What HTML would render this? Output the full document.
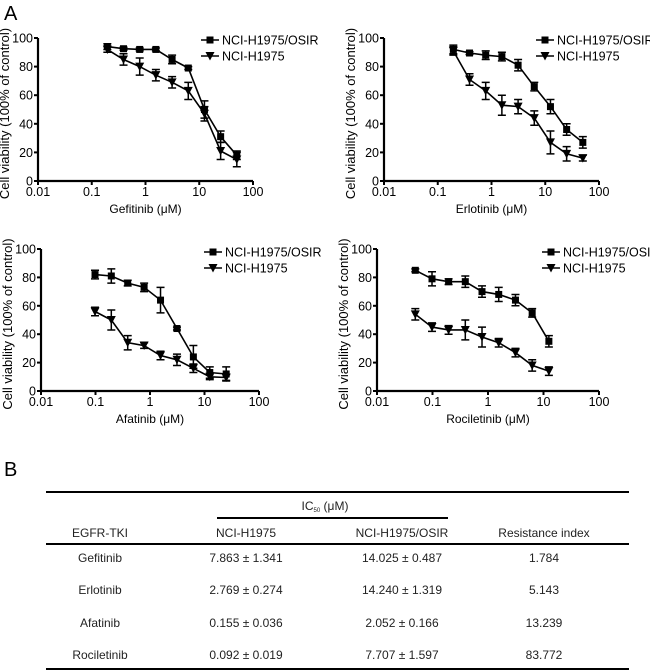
<!DOCTYPE html>
<html><head><meta charset="utf-8">
<style>
body{margin:0;background:#fff;}
svg{display:block;font-family:"Liberation Sans",Arial,sans-serif;}
</style></head>
<body>
<svg id="fig" width="650" height="670" viewBox="0 0 650 670">
<text x="4" y="20" font-size="20">A</text>
<text x="4" y="476" font-size="20">B</text>
<g id="charts"></g>
<g id="table" font-size="12" text-anchor="middle" fill="#222">
  <line x1="46" y1="492" x2="629" y2="492" stroke="#000" stroke-width="2"/>
  <text x="325" y="510">IC<tspan font-size="6" dy="2">50</tspan><tspan dy="-2"> (μM)</tspan></text>
  <line x1="217" y1="518" x2="448" y2="518" stroke="#000" stroke-width="2"/>
  <text x="100" y="537">EGFR-TKI</text>
  <text x="246" y="537">NCI-H1975</text>
  <text x="402" y="537">NCI-H1975/OSIR</text>
  <text x="544" y="537">Resistance index</text>
  <line x1="46" y1="544" x2="629" y2="544" stroke="#000" stroke-width="2"/>
  <g><text x="100" y="562">Gefitinib</text><text x="246" y="562">7.863 ± 1.341</text><text x="402" y="562">14.025 ± 0.487</text><text x="544" y="562">1.784</text></g>
  <g><text x="100" y="594">Erlotinib</text><text x="246" y="594">2.769 ± 0.274</text><text x="402" y="594">14.240 ± 1.319</text><text x="544" y="594">5.143</text></g>
  <g><text x="100" y="627">Afatinib</text><text x="246" y="627">0.155 ± 0.036</text><text x="402" y="627">2.052 ± 0.166</text><text x="544" y="627">13.239</text></g>
  <g><text x="100" y="659">Rociletinib</text><text x="246" y="659">0.092 ± 0.019</text><text x="402" y="659">7.707 ± 1.597</text><text x="544" y="659">83.772</text></g>
  <line x1="46" y1="669" x2="629" y2="669" stroke="#000" stroke-width="2"/>
</g>
</svg>
<script>
const xTicks = [0.01, 0.1, 1, 10, 100];
const xTickLabels = ["0.01", "0.1", "1", "10", "100"];
const yTicks = [0, 20, 40, 60, 80, 100];
const seriesNames = ["NCI-H1975/OSIR", "NCI-H1975"];

const gefX = [0.195, 0.39, 0.78, 1.56, 3.125, 6.25, 12.5, 25, 50];
const gefOsir = [94, 92.5, 92, 92, 85, 79, 50, 31, 18];
const gefOsirErr = [2, 1, 1, 1, 3, 1, 6, 4, 3];
const gefPar = [92, 85, 80, 74, 69, 63, 47, 21, 15];
const gefParErr = [2, 4, 6, 4, 4, 6, 5, 6, 5];

const erlX = [0.195, 0.39, 0.78, 1.56, 3.125, 6.25, 12.5, 25, 50];
const erlOsir = [92, 89.5, 88, 87, 81, 66, 52, 36, 27];
const erlOsirErr = [3, 1, 3, 3, 4, 3, 5, 4, 4];
const erlPar = [91, 71, 63, 53, 52, 44, 27, 19, 16];
const erlParErr = [3, 4, 6, 7, 5, 5, 8, 5, 2];

const afaX = [0.098, 0.195, 0.39, 0.78, 1.56, 3.125, 6.25, 12.5, 25];
const afaOsir = [82, 81, 76, 73, 64, 44, 24, 13, 12];
const afaOsirErr = [3, 5, 2, 3, 9, 1, 8, 4, 5];
const afaPar = [56, 50, 34, 32, 25, 22, 16, 10, 9.5];
const afaParErr = [3, 7, 5, 2, 3, 4, 3, 2, 2];

const rocX = [0.049, 0.098, 0.195, 0.39, 0.78, 1.56, 3.125, 6.25, 12.5];
const rocOsir = [85, 79, 77, 77, 70, 68, 64, 55, 35];
const rocOsirErr = [1, 5, 2, 4, 4, 5, 4, 3, 4];
const rocPar = [54, 45, 43, 43, 38, 34, 27, 18, 14];
const rocParErr = [4, 3, 3, 7, 7, 3, 3, 4, 3];

const NS = "http://www.w3.org/2000/svg";
function mk(tag, attrs, parent) {
  const e = document.createElementNS(NS, tag);
  for (const k in attrs) e.setAttribute(k, attrs[k]);
  parent.appendChild(e);
  return e;
}
const root = document.getElementById("charts");

const panels = [
  {id:"gefitinib", label:"Gefitinib (μM)", x0:38, x1:253, yTop:38, yBot:181, lx:201, ly:40, xs:gefX, a:gefOsir, ae:gefOsirErr, b:gefPar, be:gefParErr},
  {id:"erlotinib", label:"Erlotinib (μM)", x0:384, x1:599, yTop:38, yBot:181, lx:536, ly:40, xs:erlX, a:erlOsir, ae:erlOsirErr, b:erlPar, be:erlParErr},
  {id:"afatinib", label:"Afatinib (μM)", x0:41, x1:259, yTop:249, yBot:391, lx:204, ly:252, xs:afaX, a:afaOsir, ae:afaOsirErr, b:afaPar, be:afaParErr},
  {id:"rociletinib", label:"Rociletinib (μM)", x0:377, x1:599, yTop:249, yBot:391, lx:542, ly:252, xs:rocX, a:rocOsir, ae:rocOsirErr, b:rocPar, be:rocParErr}
];

function marker(g, type, cx, cy) {
  if (type === 0) {
    const r = mk("rect", {x:cx-3.5, y:cy-3.5, width:7, height:7, fill:"#000"}, g);
    
    
  } else {
    const p = mk("polygon", {points:`${cx-4.5},${cy-4} ${cx+4.5},${cy-4} ${cx},${cy+4.5}`, fill:"#000"}, g);
    
    
  }
}

panels.forEach(p => {
  const g = mk("g", {}, root);
  
  
  const lmin = Math.log10(0.01), lmax = Math.log10(100);
  const X = v => p.x0 + (Math.log10(v) - lmin) / (lmax - lmin) * (p.x1 - p.x0);
  const Y = v => p.yBot - v / 100 * (p.yBot - p.yTop);
  const ax = mk("path", {d:`M${p.x0},${p.yTop} V${p.yBot} H${p.x1}`, stroke:"#000", "stroke-width":2.2, fill:"none"}, g);
  
  
  yTicks.forEach(t => {
    mk("line", {x1:p.x0-4, x2:p.x0, y1:Y(t), y2:Y(t), stroke:"#000", "stroke-width":2}, g);
    const tx = mk("text", {x:p.x0-5, y:Y(t)+4.5, "font-size":12.5, "text-anchor":"end"}, g);
    tx.textContent = t;
    
    
  });
  xTicks.forEach((t, i) => {
    mk("line", {x1:X(t), x2:X(t), y1:p.yBot, y2:p.yBot+4, stroke:"#000", "stroke-width":2}, g);
    const tx = mk("text", {x:X(t), y:p.yBot+15, "font-size":12.5, "text-anchor":"middle"}, g);
    tx.textContent = xTickLabels[i];
    
    
  });
  const xl = mk("text", {x:(p.x0+p.x1)/2, y:p.yBot+32, "font-size":12, "text-anchor":"middle"}, g);
  xl.textContent = p.label;
  
  
  const cy = (p.yTop+p.yBot)/2 + 4;
  const yl = mk("text", {x:p.x0-29, y:cy, "font-size":13, "text-anchor":"middle", transform:`rotate(-90 ${p.x0-29} ${cy})`}, g);
  yl.textContent = "Cell viability (100% of control)";
  
  
  [[p.a, p.ae], [p.b, p.be]].forEach((s, si) => {
    const sg = mk("g", {}, g);
    
    
    const pts = p.xs.map((x, i) => `${X(x).toFixed(1)},${Y(s[0][i]).toFixed(1)}`).join(" ");
    const pl = mk("polyline", {points:pts, fill:"none", stroke:"#000", "stroke-width":1.6}, sg);
    
    
    p.xs.forEach((x, i) => {
      const cx = X(x), v = s[0][i], e = s[1][i];
      const eb = mk("path", {d:`M${cx},${Y(v+e)} V${Y(v-e)} M${cx-4},${Y(v+e)} H${cx+4} M${cx-4},${Y(v-e)} H${cx+4}`, stroke:"#000", "stroke-width":1.5, fill:"none"}, sg);
      
      
      marker(sg, si, cx, Y(v));
    });
  });
  seriesNames.forEach((n, i) => {
    const lg = mk("g", {}, g);
    
    
    const ly = p.ly + i*16;
    mk("line", {x1:p.lx, x2:p.lx+18, y1:ly, y2:ly, stroke:"#000", "stroke-width":1.6}, lg);
    marker(lg, i, p.lx+9, ly);
    const t = mk("text", {x:p.lx+21, y:ly+4.5, "font-size":12.5}, lg);
    t.textContent = n;
  });
});
</script>
</body></html>
